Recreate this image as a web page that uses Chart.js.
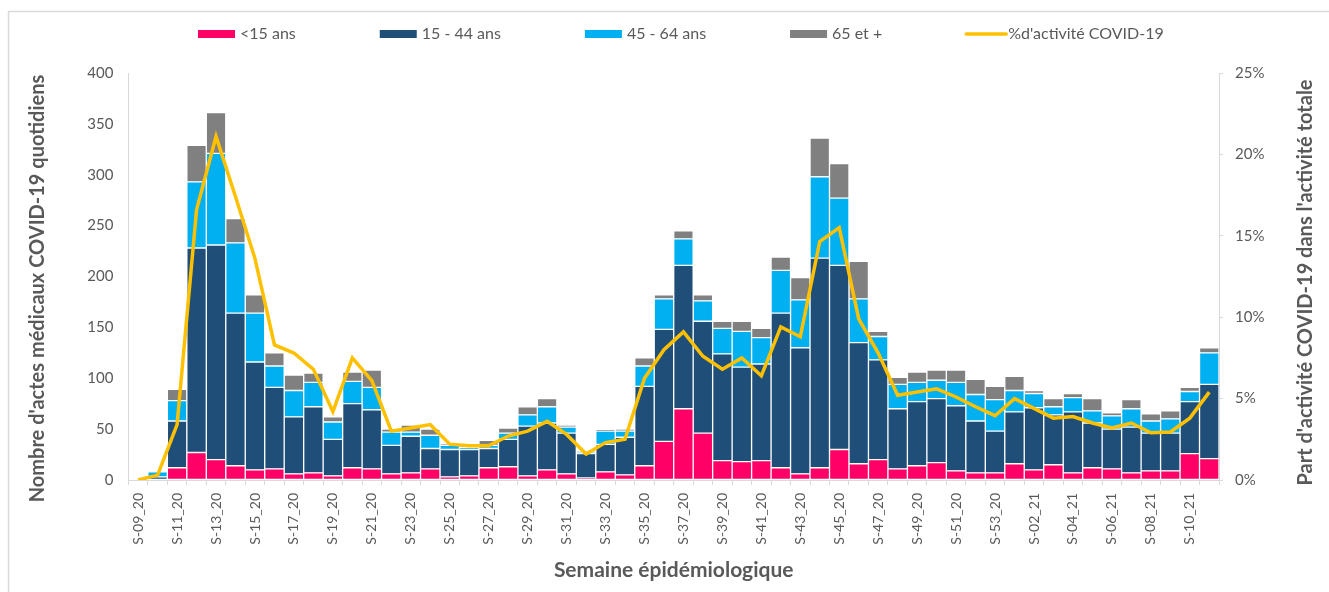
<!DOCTYPE html>
<html>
<head>
<meta charset="utf-8">
<script src="https://cdn.jsdelivr.net/npm/chart.js@4.4.1/dist/chart.umd.min.js"></script>
<style>
html,body{margin:0;padding:0;background:#fff;}
#wrap{position:relative;width:1329px;height:592px;}
</style>
</head>
<body>
<div id="wrap"><canvas id="c"></canvas></div>
<script>
const categories = ["S-09_20","S-10_20","S-11_20","S-12_20","S-13_20","S-14_20","S-15_20","S-16_20","S-17_20","S-18_20",
"S-19_20","S-20_20","S-21_20","S-22_20","S-23_20","S-24_20","S-25_20","S-26_20","S-27_20","S-28_20",
"S-29_20","S-30_20","S-31_20","S-32_20","S-33_20","S-34_20","S-35_20","S-36_20","S-37_20","S-38_20",
"S-39_20","S-40_20","S-41_20","S-42_20","S-43_20","S-44_20","S-45_20","S-46_20","S-47_20","S-48_20",
"S-49_20","S-50_20","S-51_20","S-52_20","S-53_20","S-01_21","S-02_21","S-03_21","S-04_21","S-05_21",
"S-06_21","S-07_21","S-08_21","S-09_21","S-10_21","S-11_21"];

const under15 = [0,0,12,27,20,14,10,11,6,7, 4,12,11,6,7,11,3,4,12,13, 4,10,6,2,8,5,14,38,70,46,
19,18,19,12,6,12,30,16,20,11, 14,17,9,7,7,16,10,15,7,12, 11,7,9,9,26,21];
const age15to44 = [0,3,46,201,211,150,106,80,56,65, 36,63,58,28,36,20,27,26,19,27, 49,46,40,24,27,37,78,110,141,110,
105,93,95,152,124,206,181,119,98,59, 63,63,64,51,41,51,61,49,60,44, 39,45,37,37,51,73];
const age45to64 = [0,5,20,65,90,69,48,21,26,24, 17,22,22,13,4,13,4,2,3,6, 11,16,6,1,13,6,20,30,26,20,
25,35,26,42,47,80,66,43,23,24, 19,18,23,26,31,21,14,8,14,12, 13,18,12,14,10,31];
const age65plus = [0,0,11,36,40,24,18,13,15,9, 5,9,17,3,7,6,1,1,5,5, 8,8,2,1,1,2,8,4,8,6,
7,10,9,13,22,38,34,37,5,7, 10,10,12,15,13,14,3,8,4,12, 3,9,7,8,4,5];
const pctActivite = [0,0.3,3.4,16.6,21.1,17.4,13.6,8.3,7.8,6.8, 4.2,7.5,6.1,3.0,3.2,3.4,2.2,2.1,2.1,2.7,
3.0,3.6,2.8,1.6,2.3,2.5,6.25,8.0,9.1,7.6, 6.8,7.5,6.4,9.4,8.8,14.65,15.5,9.9,7.8,5.2,
5.4,5.6,5.1,4.5,3.95,5.0,4.4,3.8,3.9,3.5, 3.2,3.5,2.9,2.95,3.8,5.4];

const leftTicks = [0,50,100,150,200,250,300,350,400];
const rightTicks = ["0%","5%","10%","15%","20%","25%"];

const leftTitle = "Nombre d'actes médicaux COVID-19 quotidiens";
const rightTitle = "Part d'activité COVID-19 dans l'activité totale";
const xTitle = "Semaine épidémiologique";

const FONT = "Lato, 'Open Sans', sans-serif";
const TXT = '#595959';
const AXIS = '#d9d9d9';

const frame = {
  id:'frame',
  beforeDraw(chart){
    const ctx = chart.ctx;
    ctx.save();
    ctx.strokeStyle = '#d9d9d9';
    ctx.lineWidth = 1.5;
    ctx.beginPath();
    ctx.moveTo(1329, 11.5); ctx.lineTo(8.5, 11.5); ctx.lineTo(8.5, 592);
    ctx.stroke();
    ctx.restore();
  }
};

const sideTitles = {
  id:'sideTitles',
  afterDraw(chart){
    const ctx = chart.ctx;
    const ca = chart.chartArea;
    ctx.save();
    ctx.font = 'bold 20px ' + FONT;
    ctx.fillStyle = TXT;
    ctx.textAlign = 'center';
    ctx.textBaseline = 'middle';
    ctx.save();
    ctx.translate(37.5, (ca.top + ca.bottom) / 2 + 12);
    ctx.rotate(-Math.PI / 2);
    ctx.fillText(leftTitle, 0, 0);
    ctx.restore();
    ctx.save();
    ctx.translate(1306, (ca.top + ca.bottom) / 2 + 6);
    ctx.rotate(-Math.PI / 2);
    ctx.fillText(rightTitle, 0, 0);
    ctx.restore();
    ctx.restore();
  }
};

const legendDraw = {
  id:'legendDraw',
  afterDraw(chart){
    const ctx = chart.ctx;
    ctx.save();
    ctx.font = '16px ' + FONT;
    ctx.textBaseline = 'middle';
    ctx.textAlign = 'left';
    let x = 198;
    const y = 34;
    chart.data.datasets.forEach(ds => {
      if (ds.type === 'line') {
        ctx.strokeStyle = ds.borderColor;
        ctx.lineWidth = 3.5;
        ctx.lineCap = 'round';
        ctx.beginPath(); ctx.moveTo(x, y); ctx.lineTo(x + 40, y); ctx.stroke();
      } else {
        ctx.fillStyle = ds.backgroundColor;
        ctx.fillRect(x, y - 4, 37, 8);
      }
      ctx.fillStyle = TXT;
      ctx.fillText(ds.label, x + 42, y);
      x += 42 + ctx.measureText(ds.label).width + 84;
    });
    ctx.restore();
  }
};

const barCommon = {type:'bar', yAxisID:'y', borderColor:'#ffffff', borderWidth:1, borderSkipped:false,
  categoryPercentage:1.0, barPercentage:1.0, order:1};

new Chart(document.getElementById('c'), {
  data: {
    labels: categories,
    datasets: [
      Object.assign({label:'<15 ans', data: under15, backgroundColor:'#FF0066'}, barCommon),
      Object.assign({label:'15 - 44 ans', data: age15to44, backgroundColor:'#1F4E79'}, barCommon),
      Object.assign({label:'45 - 64 ans', data: age45to64, backgroundColor:'#00B0F0'}, barCommon),
      Object.assign({label:'65 et +', data: age65plus, backgroundColor:'#808080'}, barCommon),
      {type:'line', label:"%d'activité COVID-19", data: pctActivite, yAxisID:'y1',
       borderColor:'#FFC000', backgroundColor:'#FFC000', borderWidth:3.5, pointRadius:0,
       tension:0, order:0, borderJoinStyle:'miter'}
    ]
  },
  options: {
    responsive:true, maintainAspectRatio:false, animation:false,
    layout:{padding:{left:0, right:0, top:73, bottom:9}},
    plugins:{legend:{display:false}, tooltip:{enabled:false}},
    scales:{
      x:{
        stacked:true,
        offset:true,
        grid:{display:true, offset:true, drawOnChartArea:false, drawTicks:true, tickLength:5, color:AXIS},
        border:{display:true, color:AXIS, width:1},
        ticks:{autoSkip:false, maxRotation:90, minRotation:90, padding:8, color:TXT,
          font:{family:FONT, size:14},
          callback:function(v, i){ return i % 2 === 0 ? categories[i] : ''; }},
        title:{display:true, text:xTitle, color:TXT, padding:0,
          font:{family:FONT, size:21, weight:'bold'}},
        afterFit(s){ s.height = 103; }
      },
      y:{
        position:'left', stacked:true, min:0, max:400,
        afterBuildTicks(s){ s.ticks = leftTicks.map(v => ({value:v})); },
        grid:{display:true, drawOnChartArea:false, drawTicks:false, color:AXIS},
        border:{display:true, color:AXIS, width:1},
        ticks:{padding:15, color:TXT, font:{family:FONT, size:15}},
        afterFit(s){ s.width = 128.4; }
      },
      y1:{
        position:'right', stacked:false, min:0, max:25,
        afterBuildTicks(s){ s.ticks = rightTicks.map(t => ({value: parseFloat(t)})); },
        grid:{display:true, drawOnChartArea:false, drawTicks:true, tickLength:4, color:AXIS},
        border:{display:true, color:AXIS, width:1},
        ticks:{padding:12, color:TXT, font:{family:FONT, size:15},
          callback:function(v){ return v + '%'; }},
        afterFit(s){ s.width = 110; }
      }
    }
  },
  plugins:[frame, legendDraw, sideTitles]
});
</script>
</body>
</html>
